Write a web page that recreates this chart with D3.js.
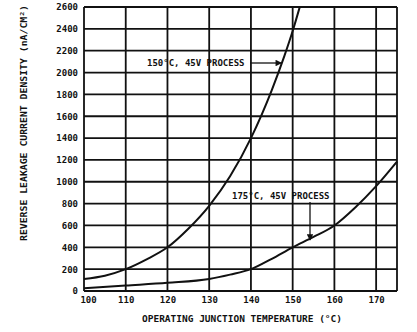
<!DOCTYPE html>
<html>
<head>
<meta charset="utf-8">
<script src="https://cdn.jsdelivr.net/npm/d3@7"></script>
<style>
  html, body { margin: 0; padding: 0; background: #fff; }
  svg { display: block; }
  text { font-family: "DejaVu Sans Mono", monospace; font-weight: bold; fill: #111; }
</style>
</head>
<body>
<svg id="chart" width="417" height="332"></svg>
<script>
// Leakage current density vs. junction temperature for two process variants
const temps150 = [100, 105, 110, 115, 120, 125, 130, 135, 140, 145, 148, 150, 151.7];
const vals150  = [110, 140, 200, 290, 400, 570, 780, 1050, 1400, 1840, 2150, 2380, 2600];

const temps175 = [100, 110, 120, 130, 135, 140, 145, 150, 155, 160, 165, 170, 175];
const vals175  = [25, 50, 75, 110, 150, 200, 295, 400, 495, 600, 765, 960, 1185];

const xTicks = [100, 110, 120, 130, 140, 150, 160, 170];
const yTicks = [0, 200, 400, 600, 800, 1000, 1200, 1400, 1600, 1800, 2000, 2200, 2400, 2600];

const svg = d3.select("#chart");
const plotLeft = 84, plotRight = 397, plotTop = 7, plotBottom = 291;

const x = d3.scaleLinear().domain([100, 175]).range([plotLeft, plotRight]);
const y = d3.scaleLinear().domain([0, 2600]).range([plotBottom, plotTop]);

const ink = "#111";

// grid
const grid = svg.append("g").attr("stroke", ink).attr("stroke-width", 1.8);
grid.selectAll("line.v").data(xTicks.concat([175])).join("line")
  .attr("class", "v")
  .attr("x1", d => x(d)).attr("x2", d => x(d))
  .attr("y1", plotTop).attr("y2", plotBottom);
grid.selectAll("line.h").data(yTicks).join("line")
  .attr("class", "h")
  .attr("x1", plotLeft).attr("x2", plotRight)
  .attr("y1", d => y(d)).attr("y2", d => y(d));

// axes (labels only, the grid provides the lines)
const xAxis = d3.axisBottom(x).tickValues(xTicks).tickSize(0).tickPadding(6).tickFormat(d3.format("d"));
const gx = svg.append("g").attr("transform", `translate(0,${plotBottom})`).call(xAxis);
gx.select(".domain").remove();
gx.selectAll("text").attr("font-size", 9).attr("font-family", "DejaVu Sans Mono").attr("font-weight", "bold").attr("fill", ink);
gx.selectAll(".tick").filter(d => d === 100).select("text").attr("dx", 4);

const yAxis = d3.axisLeft(y).tickValues(yTicks).tickSize(0).tickPadding(6).tickFormat(d3.format("d"));
const gy = svg.append("g").attr("transform", `translate(${plotLeft},0)`).call(yAxis);
gy.select(".domain").remove();
gy.selectAll("text").attr("font-size", 9).attr("font-family", "DejaVu Sans Mono").attr("font-weight", "bold").attr("fill", ink);

// curves
const line = d3.line().x(d => x(d[0])).y(d => y(d[1])).curve(d3.curveMonotoneX);
svg.append("path").datum(d3.zip(temps150, vals150))
  .attr("d", line).attr("fill", "none").attr("stroke", ink).attr("stroke-width", 2);
svg.append("path").datum(d3.zip(temps175, vals175))
  .attr("d", line).attr("fill", "none").attr("stroke", ink).attr("stroke-width", 2);

// arrowhead
svg.append("defs").append("marker")
  .attr("id", "arr").attr("viewBox", "0 0 10 10").attr("refX", 9).attr("refY", 5)
  .attr("markerWidth", 7).attr("markerHeight", 5).attr("orient", "auto")
  .append("path").attr("d", "M0,0 L10,5 L0,10 Z").attr("fill", ink);

// callout labels
svg.append("text").attr("x", 147).attr("y", 66).attr("font-size", 9)
  .text("150°C, 45V PROCESS");
svg.append("text").attr("x", 232).attr("y", 199).attr("font-size", 9)
  .text("175°C, 45V PROCESS");

// arrow from first label to the 150 process curve
svg.append("line").attr("x1", 250).attr("y1", 63).attr("x2", x(147.3)).attr("y2", 63)
  .attr("stroke", ink).attr("stroke-width", 1.3).attr("marker-end", "url(#arr)");
// arrow from second label down to the 175 process curve
svg.append("line").attr("x1", 310).attr("y1", 202).attr("x2", 310).attr("y2", 240)
  .attr("stroke", ink).attr("stroke-width", 1.3).attr("marker-end", "url(#arr)");

// axis titles
svg.append("text").attr("x", 242).attr("y", 322).attr("text-anchor", "middle")
  .attr("font-size", 9).attr("textLength", 200).attr("lengthAdjust", "spacingAndGlyphs")
  .text("OPERATING JUNCTION TEMPERATURE (°C)");

svg.append("text").attr("transform", "translate(27,123) rotate(-90)")
  .attr("text-anchor", "middle").attr("font-size", 9)
  .attr("textLength", 236).attr("lengthAdjust", "spacingAndGlyphs")
  .text("REVERSE LEAKAGE CURRENT DENSITY (nA/CM²)");
</script>
</body>
</html>
